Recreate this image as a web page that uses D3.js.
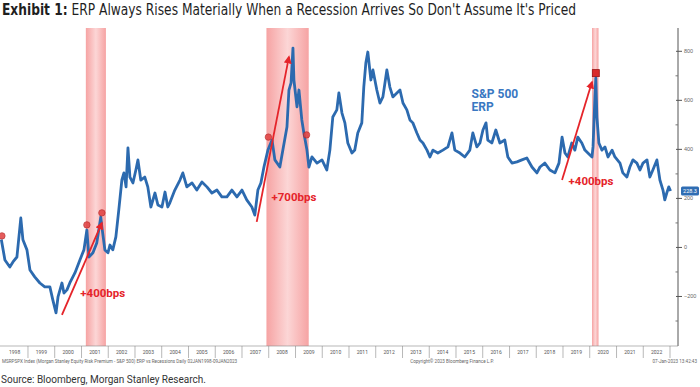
<!DOCTYPE html>
<html>
<head>
<meta charset="utf-8">
<script src="https://cdn.jsdelivr.net/npm/d3@7"></script>
<style>
  body { margin: 0; background: #fff; }
  svg { display: block; }
</style>
</head>
<body>
<div id="chart"></div>
<script>
// ERP series (bps)
const dates = [
  "1998-01-02","1998-02-20","1998-04-28","1998-06-10","1998-08-03","1998-09-25","1998-10-24","1998-12-18",
  "1999-01-28","1999-04-03","1999-06-12","1999-08-18","1999-10-27","1999-12-06","2000-01-19","2000-02-15",
  "2000-04-09","2000-05-06","2000-06-16","2000-07-25","2000-10-03","2000-12-10","2001-02-03","2001-03-15",
  "2001-04-12","2001-06-06","2001-07-28","2001-09-21","2001-10-06","2001-11-16","2001-12-28","2002-01-24",
  "2002-03-04","2002-04-15","2002-05-25","2002-07-06","2002-08-03","2002-09-01","2002-09-27","2002-10-24",
  "2002-12-04","2003-01-13","2003-02-10","2003-03-21","2003-05-15","2003-06-25","2003-08-06","2003-10-01",
  "2003-11-10","2004-01-04","2004-02-15","2004-03-24","2004-04-21","2004-06-28","2004-09-06","2004-10-15",
  "2004-12-09","2005-02-18","2005-04-24","2005-07-03","2005-09-09","2005-11-16","2006-01-24","2006-04-01",
  "2006-06-09","2006-08-16","2006-10-24","2007-01-01","2007-03-07","2007-05-16","2007-06-25","2007-08-06",
  "2007-09-16","2007-10-28","2007-12-21","2008-02-15","2008-03-25","2008-06-01","2008-07-12","2008-09-06",
  "2008-10-03","2008-11-01","2008-11-27","2008-12-10","2009-01-21","2009-02-17","2009-03-28","2009-04-25",
  "2009-06-06","2009-07-03","2009-08-13","2009-10-21","2009-12-28","2010-03-04","2010-04-15","2010-05-25",
  "2010-07-19","2010-08-16","2010-09-27","2010-11-06","2010-12-16","2011-02-10","2011-03-21","2011-05-01",
  "2011-06-25","2011-07-22","2011-08-19","2011-09-15","2011-10-27","2011-11-24","2012-01-16","2012-02-27",
  "2012-04-08","2012-06-01","2012-07-12","2012-08-22","2012-10-16","2012-11-27","2013-01-07","2013-03-01",
  "2013-04-12","2013-05-22","2013-07-16","2013-08-27","2013-10-07","2013-12-01","2014-01-10","2014-02-20",
  "2014-04-28","2014-07-06","2014-09-13","2014-11-07","2014-12-16","2015-02-24","2015-05-01","2015-07-09",
  "2015-08-19","2015-10-13","2015-11-24","2016-01-04","2016-02-15","2016-03-10","2016-05-04","2016-06-28",
  "2016-08-22","2016-10-28","2016-12-09","2017-02-03","2017-04-12","2017-06-19","2017-08-25","2017-11-03",
  "2018-01-10","2018-02-21","2018-04-28","2018-07-06","2018-09-13","2018-11-07","2018-12-19","2019-01-28",
  "2019-03-08","2019-05-01","2019-06-12","2019-07-22","2019-09-15","2019-10-27","2019-12-07","2020-02-01",
  "2020-02-15","2020-03-12","2020-03-24","2020-04-08","2020-05-05","2020-06-16","2020-07-27","2020-09-06",
  "2020-11-01","2020-12-10","2021-02-17","2021-03-28","2021-05-22","2021-07-02","2021-08-13","2021-10-06",
  "2021-11-17","2021-12-28","2022-02-21","2022-04-01","2022-05-12","2022-07-06","2022-08-16","2022-09-27",
  "2022-10-22","2022-11-18","2022-12-15","2023-01-09"
];
const erp = [
  30,-53,-82,-61,-41,118,29,-12,
  -94,-122,-147,-163,-163,-216,-269,-204,
  -147,-188,-175,-147,-106,-53,-12,69,
  -41,-24,16,122,82,-12,-24,8,
  -12,41,151,273,302,245,404,285,
  261,314,355,273,285,245,163,220,
  171,163,224,163,180,232,273,302,
  245,261,232,265,245,220,232,204,
  204,232,204,232,192,163,130,232,
  261,326,395,436,355,326,395,489,
  640,669,811,681,571,640,518,465,
  395,326,367,342,355,314,395,530,
  559,628,546,506,424,383,395,465,
  506,652,750,795,681,722,640,587,
  612,722,652,612,628,640,587,559,
  518,506,465,436,424,395,367,395,
  383,395,408,465,395,383,367,395,
  465,408,424,477,506,436,424,477,
  424,436,367,342,347,355,363,326,
  302,326,342,314,302,342,448,383,
  367,424,395,448,424,395,383,367,
  408,612,689,530,424,395,408,367,
  395,367,342,302,285,326,355,342,
  314,342,355,285,314,355,273,232,
  192,220,245,228.3
];

// recessions
const recessionStarts = ["2001-03-01", "2007-12-01", "2020-02-01"];
const recessionEnds = ["2001-11-30", "2009-06-30", "2020-04-30"];

// red arrows and their labels
const arrowFromDates = ["2000-04-09", "2007-07-21", "2018-12-19"];
const arrowFromValues = [-277, 102, 273];
const arrowToDates = ["2001-10-06", "2008-10-03", "2020-02-01"];
const arrowToValues = [98, 775, 673];
const arrowLabels = ["+400bps", "+700bps", "+400bps"];
const labelDates = ["2001-10-18", "2008-12-10", "2020-01-18"];
const labelValues = [-188, 204, 269];

// bloomberg event markers
const markerDates = ["1998-01-10", "2001-03-15", "2001-10-06", "2007-12-27", "2009-06-01", "2020-03-24"];
const markerValues = [45, 90, 139, 448, 457, 709];
const markerShapes = ["circle", "circle", "circle", "circle", "circle", "square"];

// axis
const yTicks = [-200, 0, 200, 400, 600, 800];
const yMinorTicks = [-300, -100, 100, 300, 500, 700];
const firstYear = 1998;
const lastYear = 2022;

const width = 700;
const height = 387;
const plot = { left: 0, right: 678, top: 28, bottom: 346 };

const parse = d3.utcParse('%Y-%m-%d');
const series = dates.map((d, i) => ({ date: parse(d), value: erp[i] }));

const x = d3.scaleUtc()
  .domain([Date.UTC(1998, 0, 1), Date.UTC(2023, 0, 1)])
  .range([1.25, 670]);

const y = d3.scaleLinear()
  .domain([-404, 893])
  .range([plot.bottom, plot.top]);

const svg = d3.select('#chart')
  .append('svg')
  .attr('width', width)
  .attr('height', height)
  .style('font-family', 'Roboto, "Liberation Sans", sans-serif');

const defs = svg.append('defs');

// pink band, darker at the edges
const grad = defs.append('linearGradient')
  .attr('id', 'recess')
  .attr('x1', 0).attr('x2', 1).attr('y1', 0).attr('y2', 0);
grad.append('stop').attr('offset', '0%').attr('stop-color', '#f6a3a3');
grad.append('stop').attr('offset', '50%').attr('stop-color', '#fcd6d6');
grad.append('stop').attr('offset', '100%').attr('stop-color', '#f6a3a3');

defs.append('marker')
  .attr('id', 'head')
  .attr('viewBox', '0 0 10 10')
  .attr('refX', 8).attr('refY', 5)
  .attr('markerWidth', 4.5).attr('markerHeight', 4.5)
  .attr('orient', 'auto')
  .append('path')
  .attr('d', 'M0,0L10,5L0,10z')
  .attr('fill', '#e5242a');

defs.append('clipPath')
  .attr('id', 'plotClip')
  .append('rect')
  .attr('x', plot.left).attr('y', plot.top)
  .attr('width', plot.right - plot.left).attr('height', plot.bottom - plot.top);

// title
const title = svg.append('text')
  .attr('x', 2)
  .attr('y', 15)
  .attr('fill', '#1f1f1f')
  .attr('textLength', 574)
  .attr('lengthAdjust', 'spacingAndGlyphs')
  .style('font-family', '"Liberation Sans Narrow", "DejaVu Sans Condensed", Roboto, sans-serif')
  .style('font-size', '15px');
title.append('tspan').attr('font-weight', 'bold').text('Exhibit 1:');
title.append('tspan').text('  ERP Always Rises Materially When a Recession Arrives So Don\'t Assume It\'s Priced');

// recession bands
svg.append('g')
  .selectAll('rect')
  .data(recessionStarts)
  .enter()
  .append('rect')
  .attr('x', d => x(parse(d)))
  .attr('y', plot.top)
  .attr('width', (d, i) => x(parse(recessionEnds[i])) - x(parse(d)))
  .attr('height', plot.bottom - plot.top)
  .attr('fill', 'url(#recess)');

// the ERP line
const line = d3.line()
  .x(d => x(d.date))
  .y(d => y(d.value));

svg.append('path')
  .datum(series)
  .attr('clip-path', 'url(#plotClip)')
  .attr('d', line)
  .attr('fill', 'none')
  .attr('stroke', '#2c6aaf')
  .attr('stroke-width', 2.8)
  .attr('stroke-linejoin', 'round');

// markers
const markers = svg.append('g');
markerDates.forEach((d, i) => {
  const cx = x(parse(d));
  const cy = y(markerValues[i]);
  if (markerShapes[i] === 'square') {
    markers.append('rect')
      .attr('x', cx - 3.5).attr('y', cy - 3.5)
      .attr('width', 7).attr('height', 7)
      .attr('fill', '#d92b2b')
      .attr('stroke', '#9a1414')
      .attr('stroke-width', 0.8);
  } else {
    markers.append('circle')
      .attr('cx', cx).attr('cy', cy).attr('r', 3.2)
      .attr('fill', '#e04040')
      .attr('stroke', '#b82222')
      .attr('stroke-width', 0.8)
      .attr('opacity', 0.85);
  }
});

// arrows
const arrows = svg.append('g');
arrowFromDates.forEach((d, i) => {
  arrows.append('line')
    .attr('x1', x(parse(d)))
    .attr('y1', y(arrowFromValues[i]))
    .attr('x2', x(parse(arrowToDates[i])))
    .attr('y2', y(arrowToValues[i]))
    .attr('stroke', '#e5242a')
    .attr('stroke-width', 1.8)
    .attr('marker-end', 'url(#head)');
  arrows.append('text')
    .attr('x', x(parse(labelDates[i])))
    .attr('y', y(labelValues[i]))
    .attr('dy', '0.35em')
    .attr('text-anchor', 'middle')
    .attr('fill', '#e5242a')
    .style('font-size', '11.5px')
    .style('font-weight', 'bold')
    .text(arrowLabels[i]);
});

// series label, two lines
const labelX = x(parse('2015-08-01'));
svg.append('text')
  .attr('x', labelX).attr('y', y(608))
  .attr('fill', '#3a78c2')
  .style('font-size', '12px')
  .style('font-weight', 'bold')
  .text('S&P 500');
svg.append('text')
  .attr('x', labelX).attr('y', y(556))
  .attr('fill', '#3a78c2')
  .style('font-size', '12px')
  .style('font-weight', 'bold')
  .text('ERP');

// right axis
const yAxis = svg.append('g')
  .attr('transform', `translate(${plot.right},0)`)
  .call(d3.axisRight(y).tickValues(yTicks).tickSize(4).tickPadding(2))
  .call(g => g.select('.domain').attr('stroke', '#555').attr('d', `M0,${plot.top}V${plot.bottom}`));
yAxis.selectAll('.tick line').attr('x1', -2).attr('stroke', '#555');
yAxis.selectAll('.tick text').attr('fill', '#666').style('font-size', '5.5px');

svg.append('g')
  .attr('transform', `translate(${plot.right},0)`)
  .call(d3.axisLeft(y).tickValues(yMinorTicks).tickSize(2.5).tickFormat(''))
  .call(g => g.select('.domain').remove())
  .selectAll('.tick line').attr('stroke', '#777');

// last value tag
const last = series[series.length - 1];
const tag = svg.append('g')
  .attr('transform', `translate(${plot.right + 3},${y(last.value)})`);
tag.append('rect')
  .attr('x', 0).attr('y', -4.5)
  .attr('width', 18).attr('height', 9)
  .attr('rx', 1.5)
  .attr('fill', '#2f6db3');
tag.append('text')
  .attr('x', 9).attr('dy', '0.35em')
  .attr('text-anchor', 'middle')
  .attr('fill', '#fff')
  .style('font-size', '5.5px')
  .text(d3.format('.1f')(last.value));

// bottom time axis: separators at year starts, labels in the middle of the year
const years = d3.range(firstYear, lastYear + 1);
const xAxis = svg.append('g');
xAxis.append('line')
  .attr('x1', plot.left).attr('x2', plot.right)
  .attr('y1', plot.bottom).attr('y2', plot.bottom)
  .attr('stroke', '#888').attr('stroke-width', 0.6);
years.forEach(yr => {
  const x0 = Math.max(x(Date.UTC(yr, 0, 1)), plot.left);
  const x1 = Math.min(x(Date.UTC(yr + 1, 0, 1)), plot.right);
  xAxis.append('line')
    .attr('x1', x1).attr('x2', x1)
    .attr('y1', plot.bottom).attr('y2', plot.bottom + 12)
    .attr('stroke', '#888').attr('stroke-width', 0.6);
  xAxis.append('text')
    .attr('x', (x0 + x1) / 2)
    .attr('y', plot.bottom + 8)
    .attr('text-anchor', 'middle')
    .attr('fill', '#555')
    .style('font-size', '5px')
    .text(yr);
});

// bloomberg footer line
const foot = svg.append('g')
  .attr('fill', '#666')
  .style('font-size', '4.6px');
foot.append('text').attr('x', 2).attr('y', 363)
  .text('MSRPSPX Index (Morgan Stanley Equity Risk Premium - S&P 500) ERP vs Recessions  Daily 02JAN1998-09JAN2023');
foot.append('text').attr('x', 452).attr('y', 363).attr('text-anchor', 'middle')
  .text('Copyright\u00a9 2023 Bloomberg Finance L.P.');
foot.append('text').attr('x', 697).attr('y', 363).attr('text-anchor', 'end')
  .text('07-Jan-2023 13:42:43');

svg.append('text')
  .attr('x', 1)
  .attr('y', 383)
  .attr('fill', '#333')
  .style('font-size', '10px')
  .text('Source: Bloomberg, Morgan Stanley Research.');
</script>
</body>
</html>
